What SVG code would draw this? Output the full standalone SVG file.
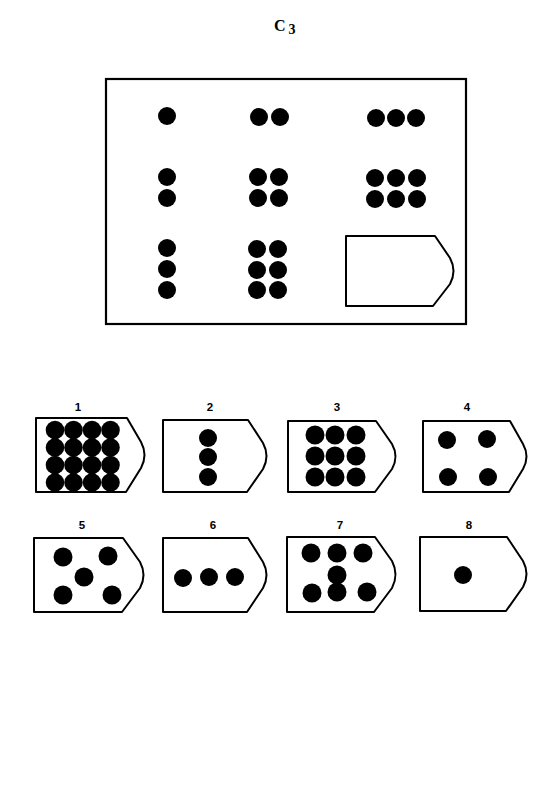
<svg xmlns="http://www.w3.org/2000/svg" width="548" height="787" viewBox="0 0 548 787">
<style>
.dot{fill:#000}
.card{fill:#fff;stroke:#000;stroke-width:2;stroke-linejoin:round}
.frame{fill:#fff;stroke:#000;stroke-width:2.2}
.num{font-family:"Liberation Sans",Arial,sans-serif;font-weight:bold;font-size:11.5px;text-anchor:middle;fill:#000}
.title{font-family:"Liberation Serif","Times New Roman",serif;font-weight:bold;font-size:16px;fill:#000}
</style>
<rect width="548" height="787" fill="#fff"/>
<text class="title" x="274" y="31">C<tspan dx="3" dy="3" font-size="14">3</tspan></text>

<g id="matrix">
<rect class="frame" x="106" y="79" width="360" height="245"/>
<g id="m11"><circle class="dot" cx="167" cy="116" r="9"/></g>
<g id="m12"><circle class="dot" cx="259" cy="117" r="9"/><circle class="dot" cx="280" cy="117" r="9"/></g>
<g id="m13"><circle class="dot" cx="376" cy="118" r="9"/><circle class="dot" cx="396" cy="118" r="9"/><circle class="dot" cx="416" cy="118" r="9"/></g>
<g id="m21"><circle class="dot" cx="167" cy="177" r="9"/><circle class="dot" cx="167" cy="198" r="9"/></g>
<g id="m22"><circle class="dot" cx="258" cy="177" r="9"/><circle class="dot" cx="279" cy="177" r="9"/><circle class="dot" cx="258" cy="198" r="9"/><circle class="dot" cx="279" cy="198" r="9"/></g>
<g id="m23"><circle class="dot" cx="375" cy="178" r="9"/><circle class="dot" cx="396" cy="178" r="9"/><circle class="dot" cx="417" cy="178" r="9"/><circle class="dot" cx="375" cy="199" r="9"/><circle class="dot" cx="396" cy="199" r="9"/><circle class="dot" cx="417" cy="199" r="9"/></g>
<g id="m31"><circle class="dot" cx="167" cy="248" r="9"/><circle class="dot" cx="167" cy="269" r="9"/><circle class="dot" cx="167" cy="290" r="9"/></g>
<g id="m32"><circle class="dot" cx="257" cy="249" r="9"/><circle class="dot" cx="278" cy="249" r="9"/><circle class="dot" cx="257" cy="270" r="9"/><circle class="dot" cx="278" cy="270" r="9"/><circle class="dot" cx="257" cy="290" r="9"/><circle class="dot" cx="278" cy="290" r="9"/></g>
<g id="m33"><path class="card" d="M346,236 H435 L450,258 Q457,271 450,284 L433,306 H346 Z"/></g>
</g>

<g id="opt1">
<text class="num" x="78" y="411">1</text>
<path class="card" d="M36,418 H127 L141,442 Q148,455 141,468 L126,492 H36 Z"/>
<circle class="dot" cx="55" cy="430" r="9.3"/><circle class="dot" cx="73.5" cy="430" r="9.3"/><circle class="dot" cx="92" cy="430" r="9.3"/><circle class="dot" cx="110.5" cy="430" r="9.3"/>
<circle class="dot" cx="55" cy="447.5" r="9.3"/><circle class="dot" cx="73.5" cy="447.5" r="9.3"/><circle class="dot" cx="92" cy="447.5" r="9.3"/><circle class="dot" cx="110.5" cy="447.5" r="9.3"/>
<circle class="dot" cx="55" cy="465" r="9.3"/><circle class="dot" cx="73.5" cy="465" r="9.3"/><circle class="dot" cx="92" cy="465" r="9.3"/><circle class="dot" cx="110.5" cy="465" r="9.3"/>
<circle class="dot" cx="55" cy="482.5" r="9.3"/><circle class="dot" cx="73.5" cy="482.5" r="9.3"/><circle class="dot" cx="92" cy="482.5" r="9.3"/><circle class="dot" cx="110.5" cy="482.5" r="9.3"/>
</g>

<g id="opt2">
<text class="num" x="210" y="411">2</text>
<path class="card" d="M163,420 H248 L263,443 Q270,456 263,469 L247,492 H163 Z"/>
<circle class="dot" cx="208" cy="438" r="9"/><circle class="dot" cx="208" cy="457" r="9"/><circle class="dot" cx="208" cy="477" r="9"/>
</g>

<g id="opt3">
<text class="num" x="337" y="411">3</text>
<path class="card" d="M288,421 H376 L392,444 Q399,456.5 392,469 L375,492 H288 Z"/>
<circle class="dot" cx="315" cy="435" r="9.5"/><circle class="dot" cx="335" cy="435" r="9.5"/><circle class="dot" cx="356" cy="435" r="9.5"/>
<circle class="dot" cx="315" cy="456" r="9.5"/><circle class="dot" cx="335" cy="456" r="9.5"/><circle class="dot" cx="356" cy="456" r="9.5"/>
<circle class="dot" cx="315" cy="477" r="9.5"/><circle class="dot" cx="335" cy="477" r="9.5"/><circle class="dot" cx="356" cy="477" r="9.5"/>
</g>

<g id="opt4">
<text class="num" x="467" y="411">4</text>
<path class="card" d="M423,421 H510 L523,444 Q530,456.5 523,469 L509,492 H423 Z"/>
<circle class="dot" cx="447" cy="440" r="9"/><circle class="dot" cx="487" cy="439" r="9"/><circle class="dot" cx="448" cy="477" r="9"/><circle class="dot" cx="488" cy="477" r="9"/>
</g>

<g id="opt5">
<text class="num" x="82" y="529">5</text>
<path class="card" d="M34,538 H123 L140,562 Q147,575 140,588 L122,612 H34 Z"/>
<circle class="dot" cx="63" cy="557" r="9.5"/><circle class="dot" cx="108" cy="556" r="9.5"/><circle class="dot" cx="84" cy="577" r="9.5"/><circle class="dot" cx="63" cy="595" r="9.5"/><circle class="dot" cx="112" cy="595" r="9.5"/>
</g>

<g id="opt6">
<text class="num" x="213" y="529">6</text>
<path class="card" d="M163,538 H248 L263,562 Q270,575 263,588 L247,612 H163 Z"/>
<circle class="dot" cx="183" cy="578" r="9"/><circle class="dot" cx="209" cy="577" r="9"/><circle class="dot" cx="235" cy="577" r="9"/>
</g>

<g id="opt7">
<text class="num" x="340" y="529">7</text>
<path class="card" d="M287,537 H375 L392,561 Q399,574.5 392,588 L374,612 H287 Z"/>
<circle class="dot" cx="311" cy="553" r="9.5"/><circle class="dot" cx="337" cy="553" r="9.5"/><circle class="dot" cx="363" cy="553" r="9.5"/>
<circle class="dot" cx="337" cy="575" r="9.5"/>
<circle class="dot" cx="312" cy="593" r="9.5"/><circle class="dot" cx="337" cy="592" r="9.5"/><circle class="dot" cx="367" cy="592" r="9.5"/>
</g>

<g id="opt8">
<text class="num" x="469" y="529">8</text>
<path class="card" d="M420,537 H507 L523,561 Q530,574 523,587 L506,611 H420 Z"/>
<circle class="dot" cx="463" cy="575" r="9"/>
</g>
</svg>
